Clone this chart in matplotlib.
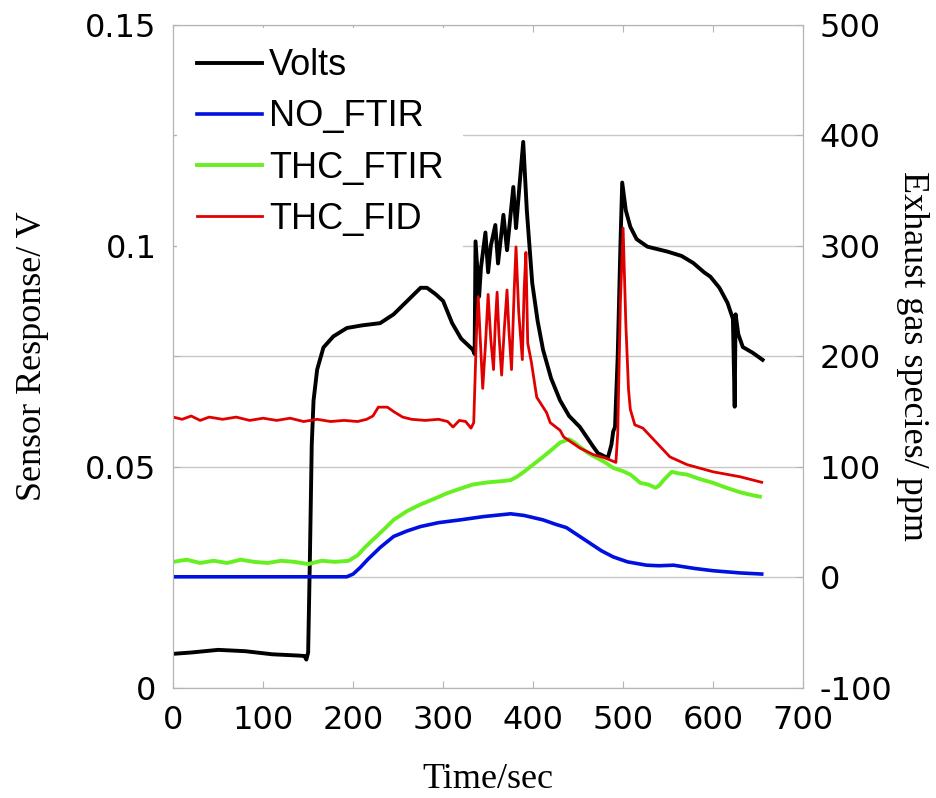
import matplotlib.pyplot as plt

plt.rcParams['axes.unicode_minus'] = False

# Volts (left axis)
t_volts = [0, 20, 50, 80, 110, 140, 146, 148, 150, 152, 154, 156, 160, 167, 178, 193, 210, 230, 245, 260,
           275, 282, 292, 300, 310, 320, 333, 335, 336, 340, 342, 347, 350, 353, 358, 361, 367, 371, 378,
           381, 385, 389, 393, 399, 405, 411, 420, 430, 440, 452, 467, 472, 483, 487, 489, 491, 494, 497,
           499, 503, 508, 515, 527, 549, 565, 578, 590, 597, 607, 616, 622, 624, 625, 628, 633, 644, 655]
volts = [0.0077, 0.0080, 0.0086, 0.0083, 0.0076, 0.0073, 0.0072, 0.0064, 0.0080, 0.030, 0.055, 0.065,
         0.072, 0.077, 0.0795, 0.0814, 0.0820, 0.0825, 0.0845, 0.0875, 0.0905, 0.0905, 0.0890, 0.0875,
         0.0825, 0.0790, 0.0765, 0.0755, 0.101, 0.0885, 0.095, 0.103, 0.094, 0.100, 0.1047, 0.096, 0.107,
         0.099, 0.1133, 0.104, 0.114, 0.1235, 0.108, 0.0916, 0.083, 0.0765, 0.070, 0.065, 0.0615, 0.059,
         0.0545, 0.0531, 0.052, 0.055, 0.058, 0.059, 0.075, 0.100, 0.1143, 0.108, 0.1043, 0.1015, 0.0998,
         0.0987, 0.0977, 0.0961, 0.094, 0.093, 0.0905, 0.0871, 0.0835, 0.0636, 0.0845, 0.080, 0.0771,
         0.0758, 0.0742]

# NO_FTIR (right axis, ppm)
t_no = [0, 100, 193, 200, 208, 216, 230, 245, 260, 275, 295, 319, 345, 375, 390, 411, 425, 437, 450, 463,
        476, 489, 505, 526, 540, 556, 580, 600, 630, 654]
no_ftir = [0.5, 0.5, 0.5, 3, 9, 16, 27, 37, 42, 46, 49.5, 52, 55, 57.5, 56, 52, 48, 45, 38, 31, 24, 18.5,
           14, 11, 10.5, 11, 8, 6, 4, 3]

# THC_FTIR (right axis, ppm)
t_thc_ftir = [0, 15, 30, 45, 60, 75, 90, 105, 120, 135, 150, 165, 180, 195, 205, 213, 222, 235, 245, 260,
              275, 290, 304, 318, 333, 350, 365, 375, 382, 389, 400, 411, 420, 430, 440, 446, 452, 462,
              471, 480, 489, 500, 508, 514, 519, 528, 536, 540, 545, 554, 562, 571, 585, 600, 615, 630,
              640, 652]
thc_ftir = [14, 16, 13, 15, 13, 16, 14, 13, 15, 14, 12, 15, 14, 15, 20, 27, 34, 44, 52, 60, 66, 71, 76,
            80, 84, 86, 87, 88, 91, 95, 102, 109, 115, 122, 125, 122, 118, 112, 108, 104, 99, 96, 93, 89,
            85.5, 84, 81, 83, 88, 95.5, 94, 93, 89, 85.5, 81, 77, 75, 73]

# THC_FID (right axis, ppm)
t_thc_fid = [0, 10, 20, 30, 40, 55, 70, 85, 100, 115, 130, 145, 160, 175, 190, 205, 215, 222, 228, 238,
             245, 255, 265, 280, 295, 305, 311, 318, 325, 331, 334, 337, 339, 341, 344, 347, 350, 353,
             356, 358, 360, 362, 365, 368, 371, 373, 376, 379, 381, 384, 388, 390, 392, 394, 398, 404,
             415, 419, 430, 434, 452, 467, 480, 489, 492, 494, 497, 500, 503, 506, 508, 513, 522, 537,
             552, 571, 600, 630, 654]
thc_fid = [145, 143, 146, 142, 145, 143, 145, 142, 144, 142, 144, 141, 143, 141, 142, 141, 143, 146, 154,
           154, 150, 145, 143, 142, 143, 141, 136, 142, 141, 135, 140, 220, 254, 220, 171, 210, 256, 215,
           188, 230, 258, 220, 183, 225, 260, 225, 188, 260, 299, 240, 197, 260, 294, 212, 195, 163, 149,
           140, 133, 127, 117, 111, 108, 105, 104, 130, 250, 316, 230, 170, 152, 138, 135, 122, 109, 102,
           95.5, 91, 86]

fig = plt.figure(figsize=(9.36, 7.98), dpi=100)
ax = fig.add_axes([0.185, 0.138, 0.673, 0.831])
ax2 = ax.twinx()

edge = '#b4b4b4'
ax.set_axisbelow(True)
ax.grid(axis='y', color='#c8c8c8', lw=1)

l1, = ax.plot(t_volts, volts, color='black', lw=2.8, label='Volts')
l2, = ax2.plot(t_no, no_ftir, color='#0010e0', lw=2.6, label='NO_FTIR')
l3, = ax2.plot(t_thc_ftir, thc_ftir, color='#66f022', lw=2.8, label='THC_FTIR')
l4, = ax2.plot(t_thc_fid, thc_fid, color='#e00000', lw=2.0, label='THC_FID')

ax.set_xlim(0, 700)
ax.set_ylim(0, 0.15)
ax2.set_ylim(-100, 500)
ax.set_xticks(range(0, 701, 100))
ax.set_yticks([0, 0.025, 0.05, 0.075, 0.1, 0.125, 0.15])
ax.set_yticklabels(['0', '', '0.05', '', '0.1', '', '0.15'])
ax2.set_yticks(range(-100, 501, 100))

for a in (ax, ax2):
    for s in a.spines.values():
        s.set_color(edge)
ax.tick_params(axis='both', direction='in', color=edge, labelsize=23, length=5,
               top=True, right=False)
ax.tick_params(axis='y', pad=12)
ax.tick_params(axis='x', pad=12)
ax2.tick_params(axis='y', direction='in', color=edge, labelsize=23, length=5, pad=12)

serif = 'Liberation Serif'
ax.set_xlabel('Time/sec', family=serif, fontsize=26, labelpad=20)
ax.set_ylabel('Sensor Response/ V', family=serif, fontsize=26, labelpad=26)
ax2.set_ylabel('Exhaust gas species/ ppm', family=serif, fontsize=26, rotation=-90, labelpad=26)

ax2.legend(handles=[l1, l2, l3, l4], loc='upper left', bbox_to_anchor=(0.0, 1.0),
           prop={'family': 'Liberation Sans', 'size': 26}, frameon=True, facecolor='white',
           edgecolor='none', framealpha=1, fancybox=False, handlelength=1.8, handletextpad=0.2,
           labelspacing=0.45, borderpad=0.55, borderaxespad=0.1)

fig.savefig('out.png', dpi=100)
